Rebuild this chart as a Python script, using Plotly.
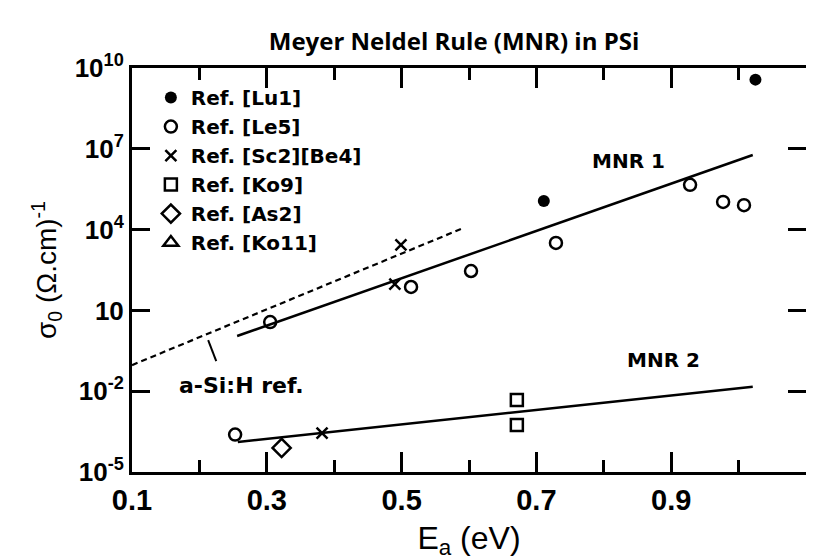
import plotly.graph_objects as go

# ---- data (Ea in eV, sigma0 in (ohm.cm)^-1) ----
lu1_x = [0.711, 1.025]
lu1_y = [1.15e5, 3.7e9]

le5_x = [0.253, 0.305, 0.514, 0.603, 0.729, 0.928, 0.977, 1.008]
le5_y = [2.45e-4, 3.7, 74, 290, 3.2e3, 4.6e5, 1.07e5, 8.1e4]

sc2_x = [0.382, 0.490, 0.499]
sc2_y = [2.8e-4, 95, 2.7e3]

ko9_x = [0.671, 0.671]
ko9_y = [4.7e-3, 5.6e-4]

as2_x = [0.322]
as2_y = [7.8e-5]

# fit lines
mnr1_x = [0.256, 1.021]
mnr1_y = [1.12, 5.9e6]
mnr2_x = [0.257, 1.021]
mnr2_y = [1.3e-4, 1.45e-2]
asih_x = [0.1, 0.588]
asih_y = [0.093, 1.05e4]
pointer_x = [0.213, 0.225]
pointer_y = [0.79, 0.132]

ytick_vals = [1e-5, 1e-2, 1e1, 1e4, 1e7, 1e10]
ytick_text = ["10<sup>-5</sup>", "10<sup>-2</sup>", "10", "10<sup>4</sup>", "10<sup>7</sup>", "10<sup>10</sup>"]
xtick_vals = [0.1, 0.3, 0.5, 0.7, 0.9, 1.1]
xtick_text = ["0.1", "0.3", "0.5", "0.7", "0.9", "1.1"]

FONT = "Liberation Sans, Arial, sans-serif"
mk_line = dict(color="black", width=2.5)

fig = go.Figure()

# lines
fig.add_trace(go.Scatter(x=mnr1_x, y=mnr1_y, mode="lines", line=dict(color="black", width=2.5), showlegend=False, hoverinfo="skip"))
fig.add_trace(go.Scatter(x=mnr2_x, y=mnr2_y, mode="lines", line=dict(color="black", width=2.5), showlegend=False, hoverinfo="skip"))
fig.add_trace(go.Scatter(x=asih_x, y=asih_y, mode="lines", line=dict(color="black", width=2.2, dash="6px,4px"), showlegend=False, hoverinfo="skip"))
fig.add_trace(go.Scatter(x=pointer_x, y=pointer_y, mode="lines", line=dict(color="black", width=2), showlegend=False, hoverinfo="skip"))

# markers
fig.add_trace(go.Scatter(x=lu1_x, y=lu1_y, mode="markers", name="Ref. [Lu1]",
                         marker=dict(symbol="circle", size=12, color="black")))
fig.add_trace(go.Scatter(x=le5_x, y=le5_y, mode="markers", name="Ref. [Le5]",
                         marker=dict(symbol="circle-open", size=12, color="black", line=mk_line)))
fig.add_trace(go.Scatter(x=sc2_x, y=sc2_y, mode="markers", name="Ref. [Sc2][Be4]",
                         marker=dict(symbol="x-thin-open", size=11, color="black", line=mk_line)))
fig.add_trace(go.Scatter(x=ko9_x, y=ko9_y, mode="markers", name="Ref. [Ko9]",
                         marker=dict(symbol="square-open", size=12, color="black", line=mk_line)))
fig.add_trace(go.Scatter(x=as2_x, y=as2_y, mode="markers", name="Ref. [As2]",
                         marker=dict(symbol="diamond-open", size=14, color="black", line=mk_line)))
fig.add_trace(go.Scatter(x=[None], y=[None], mode="markers", name="Ref. [Ko11]",
                         marker=dict(symbol="triangle-up-open", size=13, color="black", line=mk_line)))

ann_font = dict(family="DejaVu Sans", size=20, color="black", weight="bold")
fig.add_annotation(x=0.836, y=6.55, xref="x", yref="y", text="<b>MNR 1</b>", showarrow=False, font=ann_font)
fig.add_annotation(x=0.889, y=-0.84, xref="x", yref="y", text="<b>MNR 2</b>", showarrow=False, font=ann_font)
fig.add_annotation(x=0.262, y=-1.77, xref="x", yref="y", text="<b>a-Si:H ref.</b>", showarrow=False,
                   font=dict(family="DejaVu Sans", size=22, color="black", weight="bold"))

axis_common = dict(showline=True, linecolor="black", linewidth=3, mirror="allticks",
                   ticks="inside", tickcolor="black", tickwidth=3, showgrid=False, zeroline=False)

fig.update_xaxes(range=[0.1, 1.1], tickvals=xtick_vals, ticktext=xtick_text, ticklen=20,
                 minor=dict(dtick=0.1, tick0=0.1, ticklen=12, tickwidth=3, tickcolor="black", ticks="inside"),
                 tickfont=dict(family=FONT, size=29, color="black", weight="bold"),
                 title=dict(text="E<sub>a</sub> (eV)", font=dict(family=FONT, size=32, color="black"), standoff=12),
                 **axis_common)
fig.update_yaxes(type="log", range=[-5, 10], tickvals=ytick_vals, ticktext=ytick_text, ticklen=18,
                 tickfont=dict(family=FONT, size=26, color="black", weight="bold"),
                 title=dict(text="σ<sub>0</sub> (Ω.cm)<sup>-1</sup>", font=dict(family=FONT, size=28, color="black"), standoff=10),
                 **axis_common)

fig.update_layout(
    width=814, height=560,
    margin=dict(l=124, r=16, t=60, b=96),
    paper_bgcolor="white", plot_bgcolor="white",
    title=dict(text="<b>Meyer Neldel Rule (MNR) in PSi</b>", x=446/814, xanchor="center", y=1 - 34/560, yanchor="middle",
               font=dict(family="Open Sans", size=24, color="black")),
    legend=dict(x=0.028, y=0.975, xanchor="left", yanchor="top", bgcolor="rgba(0,0,0,0)",
                font=dict(family="DejaVu Sans", size=20, color="black", weight="bold"), itemwidth=30, tracegroupgap=0),
    showlegend=True,
)

fig.write_html("out.html")
